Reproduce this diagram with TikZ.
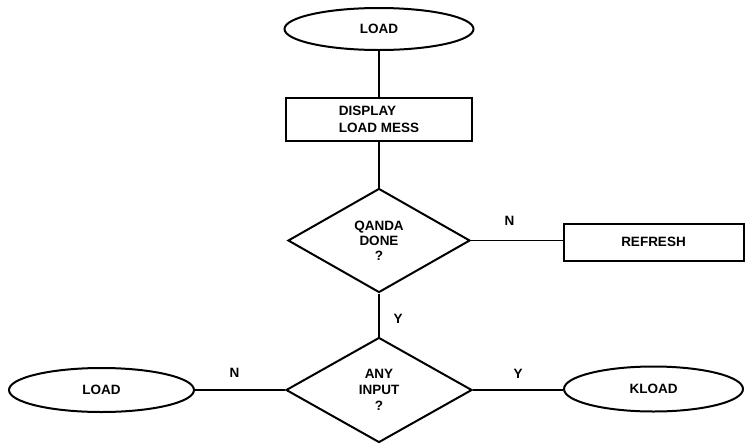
\documentclass[tikz,border=0pt]{standalone}
\usepackage{fontspec}
\setmainfont{Liberation Sans}
\usepackage{tikz}
\usetikzlibrary{shapes.geometric}

\tikzset{
    txt/.style={font=\bfseries\fontsize{13.5}{15}\selectfont},
    terminal/.style={ellipse, draw, line width=2pt, inner sep=0pt, txt},
    process/.style={rectangle, draw, line width=2pt, inner sep=0pt, txt},
    decision/.style={diamond, draw, line width=2pt, inner sep=0pt, align=center, txt},
    link/.style={line width=1.5pt},
    lbl/.style={txt, inner sep=0pt}
}

\begin{document}
\begin{tikzpicture}[x=1pt, y=-1pt]
    \useasboundingbox (0,0) rectangle (745,445);

    % Blocs
    \node[terminal, minimum width=189pt, minimum height=42pt] (load) at (379,29) {LOAD};
    \node[process, minimum width=186pt, minimum height=43pt, align=left,
          font=\bfseries\fontsize{13.5}{17}\selectfont] (display) at (379,119.5) {DISPLAY\\LOAD MESS};
    \node[decision, minimum width=182pt, minimum height=104pt] (qanda) at (379,240.5) {QANDA\\DONE\\?};
    \node[process, minimum width=180pt, minimum height=37pt] (refresh) at (653.5,242) {REFRESH};
    \node[decision, minimum width=186pt, minimum height=105pt,
          font=\bfseries\fontsize{13.5}{16}\selectfont] (input) at (379,390) {ANY\\INPUT\\?};
    \node[terminal, minimum width=185pt, minimum height=44pt] (reload) at (101.5,390) {LOAD};
    \node[terminal, minimum width=179pt, minimum height=45pt] (kload) at (653.5,389) {KLOAD};

    % Liaisons
    \draw[link] (load) -- (display);
    \draw[link] (display) -- (qanda);
    \draw[link] (qanda.east) -- node[lbl, pos=0.42, yshift=20pt] (qn) {N} (qanda.east -| refresh.west);
    \draw[link] (qanda.south) -- node[lbl, pos=0.59, xshift=19pt] (qy) {Y} (input.north);
    \draw[link] (input.west) -- node[lbl, pos=0.56, yshift=17pt] (in) {N} (reload.east);
    \draw[link] (input.east) -- node[lbl, pos=0.5, yshift=16pt] (iy) {Y} (input.east -| kload.west);
\end{tikzpicture}
\end{document}
